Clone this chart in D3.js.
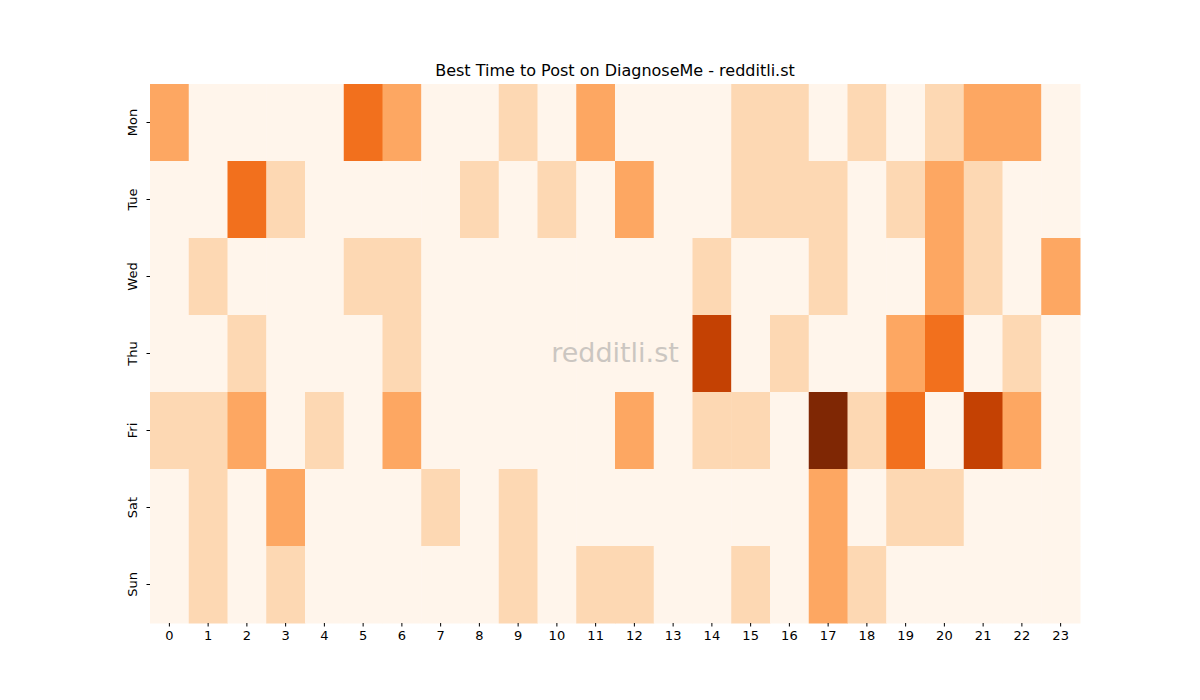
<!DOCTYPE html>
<html><head><meta charset="utf-8">
<script src="https://cdn.jsdelivr.net/npm/d3@7"></script>
<style>body{margin:0;background:#fff;font-family:"DejaVu Sans",sans-serif;}</style>
</head><body><div id="chart"></div>
<script>
const days = ['Mon','Tue','Wed','Thu','Fri','Sat','Sun'];
const hours = d3.range(24);
// post activity level per hour (0-5)
const mon = [2,0,0,0,0,3,2,0,0,1,0,2,0,0,0,1,1,0,1,0,1,2,2,0];
const tue = [0,0,3,1,0,0,0,0,1,0,1,0,2,0,0,1,1,1,0,1,2,1,0,0];
const wed = [0,1,0,0,0,1,1,0,0,0,0,0,0,0,1,0,0,1,0,0,2,1,0,2];
const thu = [0,0,1,0,0,0,1,0,0,0,0,0,0,0,4,0,1,0,0,2,3,0,1,0];
const fri = [1,1,2,0,1,0,2,0,0,0,0,0,2,0,1,1,0,5,1,3,0,4,2,0];
const sat = [0,1,0,2,0,0,0,1,0,1,0,0,0,0,0,0,0,2,0,1,1,0,0,0];
const sun = [0,1,0,1,0,0,0,0,0,1,0,1,1,0,0,1,0,2,1,0,0,0,0,0];
const rows = [mon,tue,wed,thu,fri,sat,sun];

const W = 1200, H = 700, L = 150, R = 1080, T = 84, B = 623;
const svg = d3.select('#chart').append('svg').attr('width', W).attr('height', H);

const x = d3.scaleBand().domain(hours).range([L, R]);
const y = d3.scaleBand().domain(days).range([T, B]);
const color = v => d3.interpolateOranges(v / 5);

const cells = [];
rows.forEach((r, i) => r.forEach((v, h) => cells.push({day: days[i], hour: h, v})));

svg.selectAll('rect.cell').data(cells).enter().append('rect')
  .attr('class', 'cell')
  .attr('x', d => x(d.hour)).attr('y', d => y(d.day))
  .attr('width', x.bandwidth() + 0.5).attr('height', y.bandwidth() + 0.5)
  .attr('fill', d => color(d.v));

const xAxis = svg.append('g').attr('transform', `translate(0,${B})`)
  .call(d3.axisBottom(x).tickSize(3.5).tickPadding(4));
const yAxis = svg.append('g').attr('transform', `translate(${L},0)`)
  .call(d3.axisLeft(y).tickSize(3.5).tickPadding(4));
[xAxis, yAxis].forEach(g => {
  g.select('.domain').remove();
  g.selectAll('text').style('font-size', '13px').style('font-family', 'DejaVu Sans').attr('fill', '#000');
  g.selectAll('line').attr('stroke', '#000');
});
yAxis.selectAll('.tick text')
  .attr('text-anchor', 'middle').attr('x', 0).attr('dy', 0)
  .attr('transform', 'translate(-13,0) rotate(-90)');

svg.append('text').attr('x', (L + R) / 2).attr('y', 76).attr('text-anchor', 'middle')
  .style('font-size', '16px').text('Best Time to Post on DiagnoseMe - redditli.st');

svg.append('text').attr('x', 615).attr('y', 362).attr('text-anchor', 'middle')
  .style('font-size', '27px').attr('fill', '#999').attr('opacity', 0.5).text('redditli.st');
</script>
</body></html>
